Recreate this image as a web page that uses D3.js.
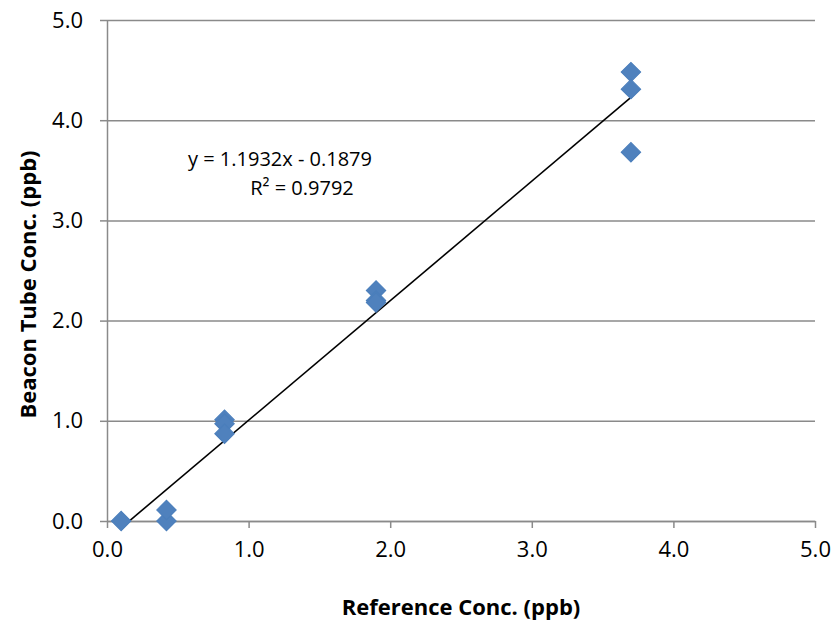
<!DOCTYPE html>
<html>
<head>
<meta charset="utf-8">
<script src="https://cdn.jsdelivr.net/npm/d3@7"></script>
<style>
  body { margin: 0; background: #fff; }
  svg { display: block; font-family: "Open Sans", sans-serif; }
</style>
</head>
<body>
<svg id="chart" width="834" height="621"></svg>
<script>
// ---- Data ----
const refConc = [0.10, 0.42, 0.42, 0.83, 0.83, 0.83, 1.90, 1.90, 1.90, 3.70, 3.70, 3.70];
const beaconConc = [0.00, 0.00, 0.11, 1.01, 0.97, 0.87, 2.30, 2.20, 2.18, 4.48, 4.31, 3.68];
const tickValues = [0, 1, 2, 3, 4, 5];
const trendSlope = 1.1932;
const trendIntercept = -0.1879;
const eqLabel = "y = 1.1932x - 0.1879";
const r2Label = "R² = 0.9792";
const xTitle = "Reference Conc. (ppb)";
const yTitle = "Beacon Tube Conc. (ppb)";

const svg = d3.select("#chart");
const grid = "#8a8a8a";

const x = d3.scaleLinear().domain([0, 5]).range([107, 815]);
const y = d3.scaleLinear().domain([0, 5]).range([521, 20]);

// horizontal gridlines + y axis
const yAxis = svg.append("g")
    .attr("transform", `translate(${x(0)},0)`)
    .call(d3.axisLeft(y).tickValues(tickValues)
        .tickFormat(d3.format(".1f"))
        .tickSize(7).tickSizeOuter(0).tickPadding(17));
yAxis.selectAll(".tick line").clone()
    .attr("x2", x(5) - x(0));
yAxis.selectAll("line, path").attr("stroke", grid).attr("stroke-width", 1.5);
yAxis.selectAll("text").attr("font-size", 22).attr("fill", "#000")
    .attr("font-family", "Open Sans");

// x axis
const xAxis = svg.append("g")
    .attr("transform", `translate(0,${y(0)})`)
    .call(d3.axisBottom(x).tickValues(tickValues)
        .tickFormat(d3.format(".1f"))
        .tickSize(7).tickSizeOuter(0).tickPadding(13));
xAxis.selectAll("line, path").attr("stroke", grid).attr("stroke-width", 1.5);
xAxis.selectAll("text").attr("font-size", 22).attr("fill", "#000")
    .attr("font-family", "Open Sans");

// linear trendline across the data range
const xMin = d3.min(refConc), xMax = d3.max(refConc);
svg.append("line")
    .attr("x1", x(xMin)).attr("y1", y(trendSlope * xMin + trendIntercept))
    .attr("x2", x(xMax)).attr("y2", y(trendSlope * xMax + trendIntercept))
    .attr("stroke", "#000").attr("stroke-width", 1.6);

// diamond markers
const diamond = d3.symbol().type(d3.symbolSquare).size(190);
svg.append("g").selectAll("path")
    .data(refConc.map((v, i) => [v, beaconConc[i]]))
    .join("path")
    .attr("d", diamond)
    .attr("transform", d => `translate(${x(d[0])},${y(d[1])}) rotate(45)`)
    .attr("fill", "#4f81bd")
    .attr("stroke", "#4a7ebb")
    .attr("stroke-width", 1);

// trendline label
svg.append("text")
    .attr("x", 280).attr("y", 166)
    .attr("text-anchor", "middle")
    .attr("font-size", 20)
    .text(eqLabel);
svg.append("text")
    .attr("x", 302).attr("y", 195)
    .attr("text-anchor", "middle")
    .attr("font-size", 20)
    .text(r2Label);

// axis titles
svg.append("text")
    .attr("x", (x(0) + x(5)) / 2).attr("y", 615)
    .attr("text-anchor", "middle")
    .attr("font-size", 22).attr("font-weight", "bold")
    .text(xTitle);
svg.append("text")
    .attr("transform", `translate(36,${(y(0) + y(5)) / 2 + 14}) rotate(-90)`)
    .attr("text-anchor", "middle")
    .attr("font-size", 22).attr("font-weight", "bold")
    .text(yTitle);
</script>
</body>
</html>
